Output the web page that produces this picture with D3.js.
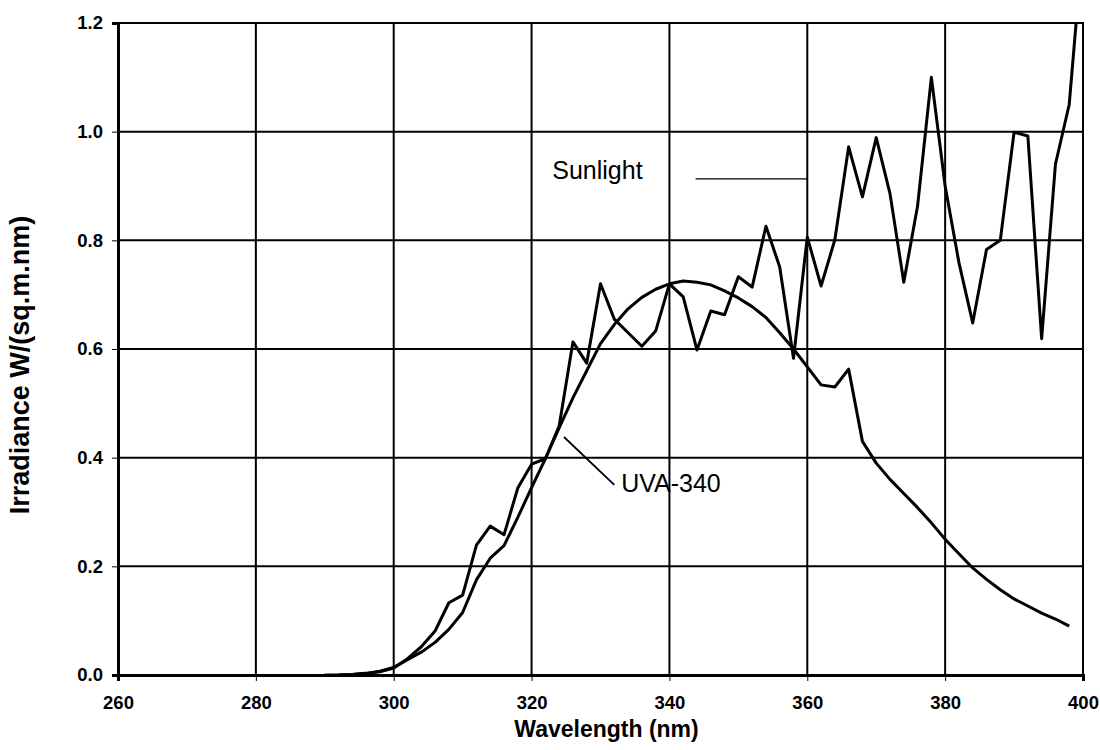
<!DOCTYPE html>
<html lang="en">
<head>
  <meta charset="UTF-8">
  <title>Sunlight vs UVA-340 Irradiance</title>
  <script src="https://d3js.org/d3.v7.min.js"></script>
  <style>
    body { margin: 0; background: #fff; font-family: "Liberation Sans", Arial, sans-serif; }
    .tick-label { font-size: 18.5px; font-weight: bold; font-family: "Liberation Sans", Arial, sans-serif; }
    .axis-title { font-size: 23px; font-weight: bold; }
    .y-title { font-size: 27px; font-weight: bold; }
    .note { font-size: 25px; }
  </style>
</head>
<body>
  <svg width="1100" height="750"></svg>

  <script>
    // wavelengths (nm), 2 nm steps
    const sunWavelengths = d3.range(292, 401, 2);
    const sunlight = [
      0, 0.001, 0.003, 0.006, 0.013, 0.03, 0.052, 0.081, 0.133,
      0.147, 0.239, 0.274, 0.258, 0.344, 0.388, 0.398, 0.458, 0.613, 0.574,
      0.72, 0.655, 0.63, 0.605, 0.633, 0.72, 0.696, 0.598, 0.67, 0.663,
      0.733, 0.714, 0.826, 0.751, 0.583, 0.806, 0.716, 0.801, 0.972, 0.88,
      0.989, 0.886, 0.723, 0.863, 1.10, 0.90, 0.759, 0.648, 0.783, 0.80,
      0.999, 0.992, 0.619, 0.94, 1.05, 1.35
    ];

    const uvaWavelengths = d3.range(290, 399, 2);
    const uva340 = [
      0, 0, 0.001, 0.003, 0.007, 0.014, 0.028, 0.042, 0.06, 0.084,
      0.115, 0.175, 0.215, 0.238, 0.29, 0.345, 0.398, 0.455, 0.51, 0.56,
      0.61, 0.645, 0.674, 0.695, 0.71, 0.72, 0.725, 0.723, 0.718, 0.707,
      0.694, 0.678, 0.658, 0.63, 0.60, 0.567, 0.534, 0.530, 0.563, 0.43,
      0.39, 0.36, 0.334, 0.308, 0.28, 0.25, 0.223, 0.197, 0.176, 0.157,
      0.14, 0.127, 0.114, 0.103, 0.09
    ];

    const xTicks = [260, 280, 300, 320, 340, 360, 380, 400];
    const yTicks = [0, 0.2, 0.4, 0.6, 0.8, 1.0, 1.2];

    const margin = { top: 23, right: 17, bottom: 75, left: 118 },
          width = 1100 - margin.left - margin.right,
          height = 750 - margin.top - margin.bottom;

    const svg = d3.select("svg")
      .append("g")
      .attr("transform", `translate(${margin.left},${margin.top})`);

    // Scales
    const x = d3.scaleLinear().domain([260, 400]).range([0, width]);
    const y = d3.scaleLinear().domain([0, 1.2]).range([height, 0]);

    svg.append("clipPath").attr("id", "plot-clip")
      .append("rect").attr("width", width).attr("height", height);

    // Grid
    svg.append("g")
      .selectAll("line")
      .data(xTicks)
      .join("line")
      .attr("x1", d => x(d)).attr("x2", d => x(d))
      .attr("y1", 0).attr("y2", height)
      .attr("stroke", "#000").attr("stroke-width", 2);

    svg.append("g")
      .selectAll("line")
      .data(yTicks)
      .join("line")
      .attr("x1", 0).attr("x2", width)
      .attr("y1", d => y(d)).attr("y2", d => y(d))
      .attr("stroke", "#000").attr("stroke-width", 2);

    // Axes
    const xAxis = svg.append("g")
      .attr("transform", `translate(0,${height})`)
      .call(d3.axisBottom(x).tickValues(xTicks).tickSize(6).tickPadding(15).tickFormat(d3.format("d")));
    xAxis.select(".domain").attr("stroke-width", 3);
    xAxis.selectAll("text").attr("class", "tick-label").attr("fill", "#000");

    const yAxis = svg.append("g")
      .call(d3.axisLeft(y).tickValues(yTicks).tickSize(6).tickPadding(9).tickFormat(d3.format(".1f")));
    yAxis.select(".domain").attr("stroke-width", 3);
    yAxis.selectAll("text").attr("class", "tick-label").attr("fill", "#000");

    // Labels
    svg.append("text")
      .attr("class", "axis-title")
      .attr("x", width / 2 + 6)
      .attr("y", height + 62)
      .attr("text-anchor", "middle")
      .text("Wavelength (nm)");

    svg.append("text")
      .attr("class", "y-title")
      .attr("transform", "rotate(-90)")
      .attr("x", -342)
      .attr("y", -89)
      .attr("text-anchor", "middle")
      .text("Irradiance W/(sq.m.nm)");

    // Lines
    const line = d3.line()
      .x(d => x(d[0]))
      .y(d => y(d[1]));

    const plot = svg.append("g").attr("clip-path", "url(#plot-clip)");

    plot.append("path")
      .datum(uvaWavelengths.map((w, i) => [w, uva340[i]]))
      .attr("d", line)
      .attr("fill", "none")
      .attr("stroke", "#000")
      .attr("stroke-width", 3)
      .attr("stroke-linejoin", "round");

    plot.append("path")
      .datum(sunWavelengths.map((w, i) => [w, sunlight[i]]))
      .attr("d", line)
      .attr("fill", "none")
      .attr("stroke", "#000")
      .attr("stroke-width", 3)
      .attr("stroke-linejoin", "round");

    // Annotations
    svg.append("text")
      .attr("class", "note")
      .attr("x", x(323))
      .attr("y", y(0.913))
      .text("Sunlight");
    svg.append("line")
      .attr("x1", x(343.8)).attr("x2", x(360))
      .attr("y1", y(0.913)).attr("y2", y(0.913))
      .attr("stroke", "#000").attr("stroke-width", 1.3);

    svg.append("text")
      .attr("class", "note")
      .attr("x", x(333))
      .attr("y", y(0.337))
      .text("UVA-340");
    svg.append("line")
      .attr("x1", x(324.7)).attr("x2", x(332))
      .attr("y1", y(0.438)).attr("y2", y(0.35))
      .attr("stroke", "#000").attr("stroke-width", 1.8);

    // top and right border
    svg.append("path")
      .attr("d", `M0,0H${width}V${height}`)
      .attr("fill", "none")
      .attr("stroke", "#000")
      .attr("stroke-width", 2);
  </script>
</body>
</html>
